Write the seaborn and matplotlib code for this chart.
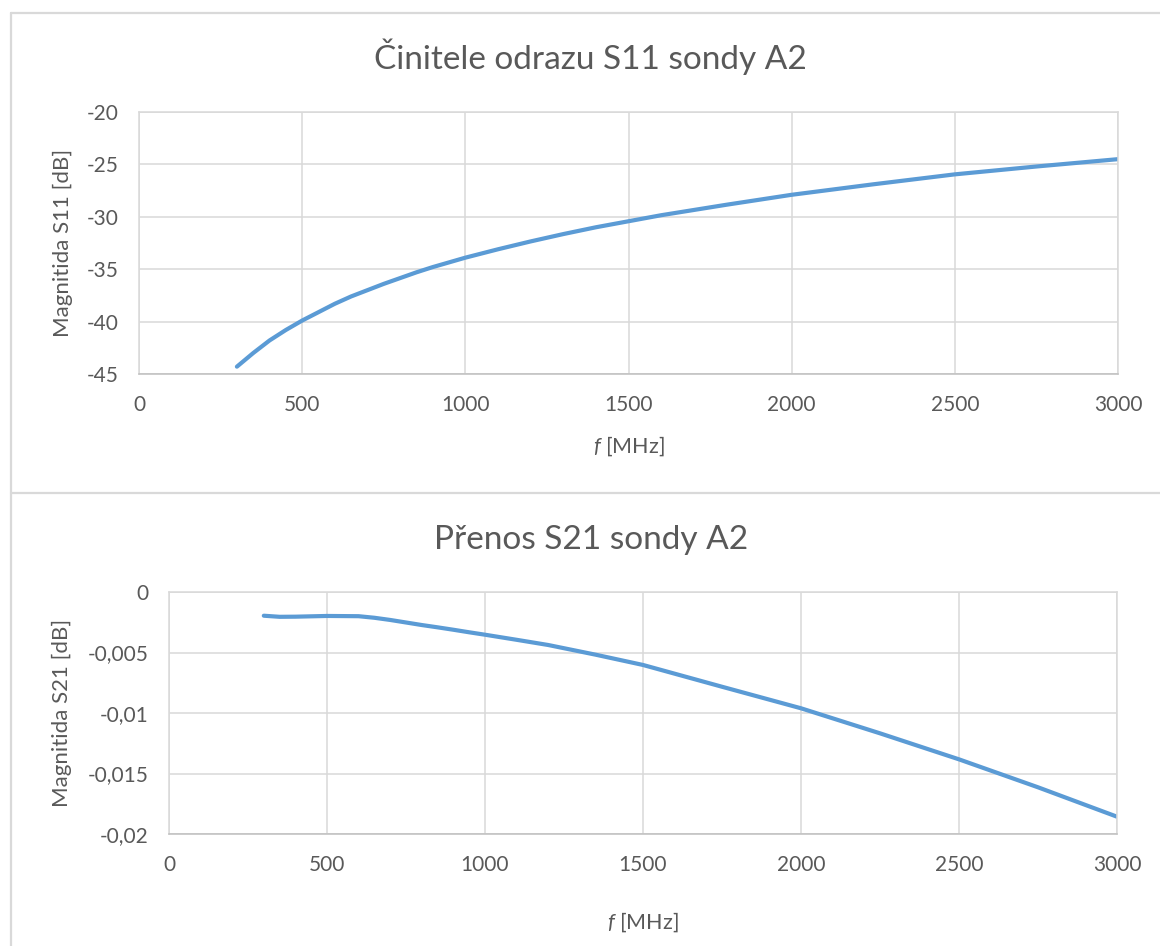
import numpy as np
import pandas as pd
import matplotlib
matplotlib.use("Agg")
import matplotlib.pyplot as plt
from matplotlib.lines import Line2D
import seaborn as sns

# ---------------- data ----------------
s11_freq = [300, 350, 400, 450, 500, 550, 600, 650, 700, 750, 800, 850, 900,
            950, 1000, 1100, 1200, 1300, 1400, 1600, 1800, 2000, 2250, 2500,
            2750, 3000]
s11_db = [-44.3, -43.0, -41.8, -40.8, -39.9, -39.1, -38.3, -37.6, -37.0, -36.4,
          -35.85, -35.3, -34.8, -34.35, -33.9, -33.1, -32.35, -31.65, -31.0,
          -29.85, -28.85, -27.9, -26.9, -25.95, -25.2, -24.5]

s21_freq = [300, 350, 400, 500, 600, 650, 700, 750, 800, 850, 900, 950, 1000,
            1100, 1200, 1350, 1500, 1750, 2000, 2250, 2500, 2750, 3000]
s21_db = [-0.00196, -0.00205, -0.00204, -0.00198, -0.00200, -0.00213, -0.00231,
          -0.00252, -0.00273, -0.00292, -0.00312, -0.00333, -0.00353, -0.00395,
          -0.00438, -0.00518, -0.00603, -0.00783, -0.00961, -0.01168, -0.01383,
          -0.01614, -0.01857]

x_ticks = [0, 500, 1000, 1500, 2000, 2500, 3000]
x_ticklabels = ["0", "500", "1000", "1500", "2000", "2500", "3000"]
s11_yticks = [-45, -40, -35, -30, -25, -20]
s11_yticklabels = ["-45", "-40", "-35", "-30", "-25", "-20"]
s21_yticks = [-0.02, -0.015, -0.01, -0.005, 0]
s21_yticklabels = ["-0,02", "-0,015", "-0,01", "-0,005", "0"]

title_top = "Činitele odrazu S11 sondy A2"
title_bottom = "Přenos S21 sondy A2"
ylabel_top = "Magnitida S11 [dB]"
ylabel_bottom = "Magnitida S21 [dB]"
xlabel = "$f$ [MHz]"

df11 = pd.DataFrame({"f": s11_freq, "v": s11_db})
df21 = pd.DataFrame({"f": s21_freq, "v": s21_db})

# ---------------- style ----------------
sns.set_theme(style="white")
plt.rcParams["font.family"] = ["Lato", "DejaVu Sans"]
plt.rcParams["mathtext.fontset"] = "custom"
plt.rcParams["mathtext.it"] = "Lato:italic"
plt.rcParams["mathtext.rm"] = "Lato"

TXT = "#595959"
GRID = "#d9d9d9"
AXIS = "#bfbfbf"
LINE = "#5b9bd5"

W, H = 1160, 946
fig = plt.figure(figsize=(W / 100, H / 100), dpi=100)
fig.patch.set_facecolor("white")


def px_axes(l, t, r, b):
    return fig.add_axes([l / W, 1 - b / H, (r - l) / W, (b - t) / H])


ax1 = px_axes(139, 112, 1118, 374)
ax2 = px_axes(169, 592, 1117, 834)


def style(ax, yt, ytl, ylim, ylab, ylab_x, xlab_y):
    ax.set_xlim(0, 3000)
    ax.set_ylim(*ylim)
    ax.set_xticks(x_ticks)
    ax.set_xticklabels(x_ticklabels)
    ax.set_yticks(yt)
    ax.set_yticklabels(ytl)
    ax.grid(True, color=GRID, linewidth=1.1)
    ax.set_axisbelow(True)
    for name, sp in ax.spines.items():
        sp.set_visible(True)
        sp.set_color(GRID)
        sp.set_linewidth(1.1)
    ax.spines["bottom"].set_color(AXIS)
    ax.tick_params(axis="both", length=0, labelsize=15, colors=TXT, pad=15)
    ax.set_xlabel(xlabel, fontsize=15.5, color=TXT)
    ax.set_ylabel(ylab, fontsize=16, color=TXT)
    ax.yaxis.set_label_coords(ylab_x, 0.5)
    ax.xaxis.set_label_coords(0.5, xlab_y)
    ax.xaxis.label.set_verticalalignment("center")
    ax.yaxis.label.set_verticalalignment("center")


sns.lineplot(data=df11, x="f", y="v", ax=ax1, color=LINE, linewidth=3,
             solid_capstyle="round", solid_joinstyle="round")
sns.lineplot(data=df21, x="f", y="v", ax=ax2, color=LINE, linewidth=3,
             solid_capstyle="round", solid_joinstyle="round")

style(ax1, s11_yticks, s11_yticklabels, (-45, -20), ylabel_top, -0.0776, -0.275)
style(ax2, s21_yticks, s21_yticklabels, (-0.02, 0), ylabel_bottom, -0.113, -0.364)

fig.text(590 / W, 1 - 57 / H, title_top, ha="center", va="center",
         fontsize=24, color=TXT)
fig.text(591 / W, 1 - 540 / H, title_bottom, ha="center", va="center",
         fontsize=24, color=TXT)

# chart-area borders (Excel chart frames)
for (x0, y0, x1, y1) in [(11, 13, 11, H), (11, 13, W, 13), (11, 493, W, 493)]:
    fig.add_artist(Line2D([x0 / W, x1 / W], [1 - y0 / H, 1 - y1 / H],
                          transform=fig.transFigure, color=GRID, linewidth=1.6))

fig.savefig("out.png", dpi=100, facecolor="white")
